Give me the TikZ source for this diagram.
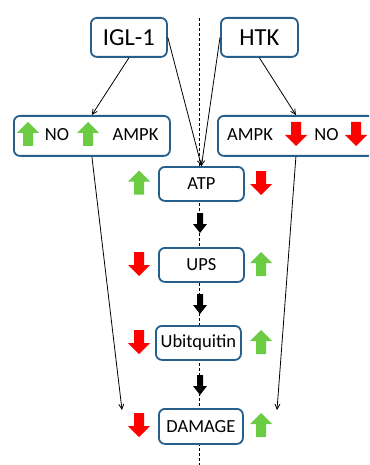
\documentclass[tikz,border=0pt]{standalone}
\usepackage{fontspec}
\setmainfont{Carlito}
\usetikzlibrary{arrows.meta}
\definecolor{boxblue}{RGB}{38,94,140}
\definecolor{upgreen}{RGB}{107,204,67}
\definecolor{downred}{RGB}{255,0,0}
\tikzset{
  x=1pt, y=-1pt,
  box/.style={draw=boxblue, line width=1.8pt, rounded corners=6pt, fill=white,
              inner sep=0pt, anchor=north west},
  lbl/.style={font=\fontsize{18.5}{20}\selectfont, inner sep=0pt},
  thinarrow/.style={line width=0.8pt, -{Straight Barb[length=5pt,width=5pt]}},
  midline/.style={line width=0.8pt, dash pattern=on 3pt off 2pt},
  pics/upblk/.style={code={
    \fill[#1] (0,-12) -- (11,-1) -- (5,-1) -- (5,12) -- (-5,12) -- (-5,-1) -- (-11,-1) -- cycle;}},
  pics/downblk/.style={code={
    \fill[#1] (0,12) -- (11,1) -- (5,1) -- (5,-12) -- (-5,-12) -- (-5,1) -- (-11,1) -- cycle;}},
  pics/stepdown/.style={code={
    \fill[black] (0,10) -- (7,1) -- (3,1) -- (3,-10) -- (-3,-10) -- (-3,1) -- (-7,1) -- cycle;}},
}
\begin{document}
\begin{tikzpicture}
\useasboundingbox (0,0) rectangle (369,465);
\clip (0,0) rectangle (369,465);

% central dashed axis
\draw[midline] (199,18) -- (199,465);

% top sources
\node[box, minimum width=76pt, minimum height=39pt] (igl) at (90,17) {};
\node[font=\fontsize{24.5}{26}\selectfont] at (igl.center) {IGL-1};
\node[box, minimum width=77pt, minimum height=39pt] (htk) at (220,17) {};
\node[font=\fontsize{24.5}{26}\selectfont] at (htk.center) {HTK};

% NO / AMPK boxes
\node[box, minimum width=156pt, minimum height=40pt] (lbox) at (13,115) {};
\node[box, minimum width=156pt, minimum height=40pt] (rbox) at (217,115) {};
\pic at (28,134) {upblk=upgreen};
\node[lbl] at (57,134.5) {NO};
\pic at (88,134) {upblk=upgreen};
\node[lbl] at (135.5,134.5) {AMPK};
\node[lbl] at (250,134.5) {AMPK};
\pic at (296,134) {downblk=downred};
\node[lbl] at (326.5,134.5) {NO};
\pic at (356,134) {downblk=downred};

% pathway boxes
\node[box, minimum width=85pt, minimum height=34pt] (atp) at (158,166) {};
\node[lbl] at (atp.center) {ATP};
\node[box, minimum width=85pt, minimum height=34pt] (ups) at (158,247) {};
\node[lbl] at (ups.center) {UPS};
\node[box, minimum width=85pt, minimum height=34pt] (ubq) at (155,325) {};
\node[lbl] at (ubq.center) {Ubitquitin};
\node[box, minimum width=84pt, minimum height=35pt] (dmg) at (158,408) {};
\node[lbl] at (dmg.center) {DAMAGE};

% side indicators
\pic at (139,182.5) {upblk=upgreen};
\pic at (261,183) {downblk=downred};
\pic at (139,264) {downblk=downred};
\pic at (261,264) {upblk=upgreen};
\pic at (139,342) {downblk=downred};
\pic at (261,342) {upblk=upgreen};
\pic at (139,425) {downblk=downred};
\pic at (261,425) {upblk=upgreen};

% steps along the pathway
\pic at (200,223) {stepdown};
\pic at (200,304) {stepdown};
\pic at (200,385) {stepdown};

% connectors
\coordinate (ldmg) at (122,410);
\coordinate (rdmg) at (277,410);
\draw[thinarrow] (igl.south) -- (lbox.north);
\draw[thinarrow] (htk.south) -- (rbox.north);
\draw[thinarrow] (igl.east) -- (atp.north);
\draw[thinarrow] (htk.west) -- (atp.north);
\draw[thinarrow] (lbox.south) -- (ldmg);
\draw[thinarrow] (rbox.south) -- (rdmg);
\end{tikzpicture}
\end{document}
